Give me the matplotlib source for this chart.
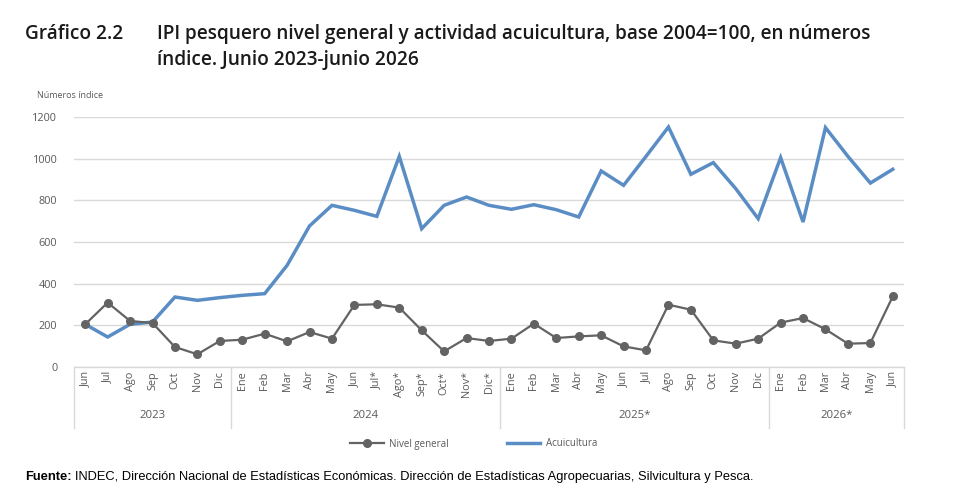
import matplotlib
matplotlib.use("Agg")
import matplotlib.pyplot as plt
from matplotlib.transforms import blended_transform_factory
from matplotlib.lines import Line2D

months = ["Jun", "Jul", "Ago", "Sep", "Oct", "Nov", "Dic",
          "Ene", "Feb", "Mar", "Abr", "May", "Jun", "Jul*", "Ago*", "Sep*", "Oct*", "Nov*", "Dic*",
          "Ene", "Feb", "Mar", "Abr", "May", "Jun", "Jul", "Ago", "Sep", "Oct", "Nov", "Dic",
          "Ene", "Feb", "Mar", "Abr", "May", "Jun"]
years = ["2023", "2024", "2025*", "2026*"]
year_counts = [7, 12, 12, 6]

nivel_general = [205, 309, 221, 211, 96, 61, 125,
                 131, 160, 123, 168, 136, 298, 301, 285, 176, 75, 139, 125,
                 136, 208, 139, 147, 152, 99, 80, 299, 275, 128, 112, 136,
                 213, 235, 181, 112, 115, 339]
acuicultura = [205, 144, 205, 216, 336, 320, 333,
               344, 352, 488, 677, 776, 752, 723, 1011, 664, 776, 816, 776,
               757, 779, 755, 720, 941, 872, 1011, 1152, 925, 981, 856, 712,
               1005, 696, 1149, 1011, 883, 949]

GREY = "#636363"
BLUE = "#5B8DC5"
TXT = "#595959"
GRID = "#D9D9D9"

fig = plt.figure(figsize=(9.6, 4.91), dpi=100)
ax = fig.add_axes([74/960, 1-367/491, (904-74)/960, 250/491])

x = list(range(len(months)))
ax.plot(x, acuicultura, color=BLUE, lw=2.5, solid_joinstyle="miter", zorder=3)
ax.plot(x, nivel_general, color=GREY, lw=1.6, marker="o", ms=5.5, zorder=4)

ax.set_xlim(-0.5, len(months) - 0.5)
ax.set_ylim(0, 1200)
ax.set_yticks(range(0, 1201, 200))
ax.yaxis.grid(True, color=GRID, lw=1)
ax.set_axisbelow(True)
for s in ["top", "right", "left"]:
    ax.spines[s].set_visible(False)
ax.spines["bottom"].set_color(GRID)
ax.spines["bottom"].set_linewidth(1)
ax.tick_params(axis="y", length=0, pad=12, labelsize=7.8, labelcolor=TXT)
ax.set_xticks(x)
ax.set_xticklabels(months, rotation=90, fontsize=7.8, color=TXT, family="Open Sans")
ax.tick_params(axis="x", length=0, pad=3)
for lab in ax.get_yticklabels():
    lab.set_family("Open Sans")

tr = blended_transform_factory(ax.transData, ax.transAxes)
start = 0
bounds = [-0.5]
for yr, cnt in zip(years, year_counts):
    mid = start + (cnt - 1) / 2
    ax.text(mid, -0.192, yr, transform=tr, ha="center", va="center",
            fontsize=8.2, color=TXT, family="Open Sans")
    start += cnt
    bounds.append(start - 0.5)
for b in bounds:
    ax.add_line(Line2D([b, b], [0, -0.245], transform=tr, color=GRID, lw=1, clip_on=False))

fig.text(37/960, 1-96/491, "Números índice", fontsize=6.5, color=TXT, family="Open Sans",
         va="center", ha="left")

tfont = dict(fontsize=13.7, fontweight="semibold", family="Open Sans", va="center",
             ha="left", color="#1a1a1a")
fig.text(25/960, 1-34/491, "Gráfico 2.2", **tfont)
fig.text(157/960, 1-34/491, "IPI pesquero nivel general y actividad acuicultura, base 2004=100, en números", **tfont)
fig.text(157/960, 1-60/491, "índice. Junio 2023-junio 2026", **tfont)

h1 = Line2D([], [], color=GREY, lw=1.6, marker="o", ms=5.5)
h2 = Line2D([], [], color=BLUE, lw=2.5)
fig.legend([h1, h2], ["Nivel general", "Acuicultura"], loc="center", ncol=2,
           bbox_to_anchor=(474/960, 1-444/491), frameon=False,
           prop={"family": "Open Sans", "size": 7}, labelcolor=TXT,
           handlelength=3.4, columnspacing=6.0, handletextpad=0.6)

fig.text(25/960, 1-477/491, "Fuente:", fontsize=9.3, fontweight="bold",
         family="Liberation Sans", va="center", ha="left", color="black")
fig.text(75/960, 1-477/491,
         "INDEC, Dirección Nacional de Estadísticas Económicas. Dirección de Estadísticas Agropecuarias, Silvicultura y Pesca.",
         fontsize=9.3, family="Liberation Sans", va="center", ha="left", color="black")

fig.savefig("out.png", dpi=100)
